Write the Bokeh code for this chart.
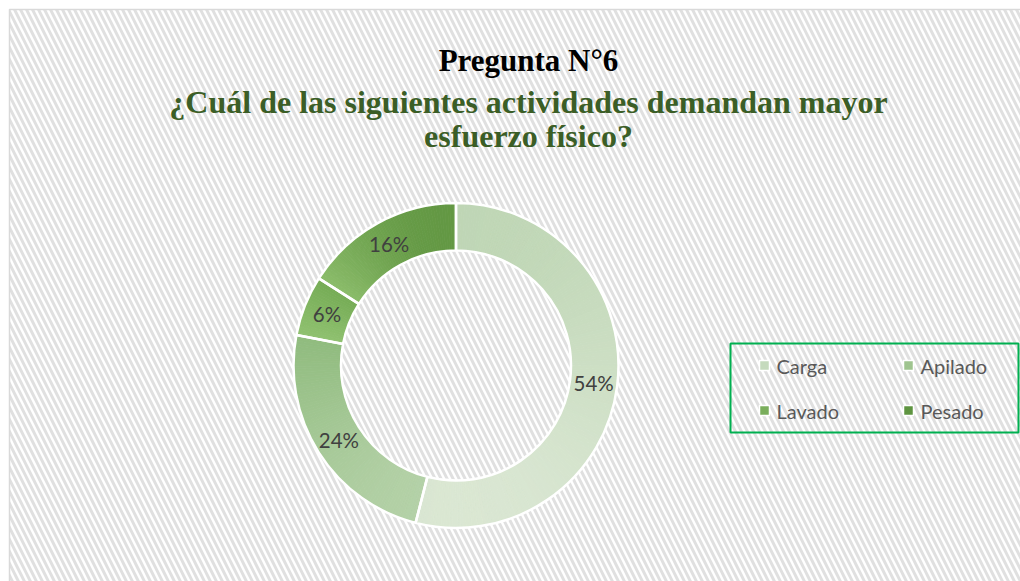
import numpy as np
from bokeh.plotting import figure
from bokeh.models import Label, BoxAnnotation, Range1d
from bokeh.embed import file_html
from bokeh.resources import INLINE
from bokeh.core.properties import value

# ---------------- data ----------------
categories = ["Carga", "Apilado", "Lavado", "Pesado"]
percentages = [54, 24, 6, 16]
pct_labels = ["54%", "24%", "6%", "16%"]

# ---------------- style ----------------
top_colors = ["#bdd5b3", "#8fbb7d", "#6ea64e", "#548a35"]
bottom_colors = ["#dce8d5", "#b9d4ad", "#93c473", "#93c472"]
legend_colors = ["#c5dabd", "#9fc48f", "#7aae5c", "#5e9440"]

W, H = 1020, 581
p = figure(width=W, height=H, x_range=Range1d(0, W), y_range=Range1d(0, H),
           output_backend="svg", toolbar_location=None,
           x_axis_type=None, y_axis_type=None, min_border=0)
p.grid.visible = False
p.outline_line_color = None
p.background_fill_color = "white"
p.border_fill_color = "white"

# chart area: hatched background with light grey border
p.add_layout(BoxAnnotation(left=9, right=W + 5, bottom=-5, top=H - 9, fill_alpha=0,
                           hatch_pattern="left_diagonal_line", hatch_color="#e0e0e0",
                           hatch_alpha=1.0, hatch_scale=12, hatch_weight=3,
                           line_color="#d9d9d9", line_alpha=1.0,
                           line_width=1.5, level="underlay"))

# ---------------- donut ----------------
cx, cy = 455.5, 216.0
r_out, r_in = 162.5, 115.0
r_mid = (r_out + r_in) / 2

def hex2rgb(h):
    h = h.lstrip("#")
    return np.array([int(h[i:i + 2], 16) for i in (0, 2, 4)], dtype=float)

def rgb2hex(c):
    return "#%02x%02x%02x" % tuple(int(round(v)) for v in c)

vals = np.array(percentages, dtype=float)
fr = vals / vals.sum()
cum = np.concatenate([[0], np.cumsum(fr)])
starts_main, ends_main, mids = [], [], []
for i in range(len(categories)):
    a0 = np.pi / 2 - 2 * np.pi * cum[i]
    a1 = np.pi / 2 - 2 * np.pi * cum[i + 1]
    starts_main.append(a1)
    ends_main.append(a0)
    mids.append((a0 + a1) / 2)
    # vertical gradient approximated by thin sub-wedges
    n = max(6, int(np.degrees(a0 - a1)))
    angs = np.linspace(a0, a1, n + 1)
    samp = np.linspace(a0, a1, 200)
    ys = np.concatenate([cy + r_out * np.sin(samp), cy + r_in * np.sin(samp)])
    ymin, ymax = ys.min(), ys.max()
    ct, cb = hex2rgb(top_colors[i]), hex2rgb(bottom_colors[i])
    ss, ee, cols = [], [], []
    for j in range(n):
        m = (angs[j] + angs[j + 1]) / 2
        ym = cy + r_mid * np.sin(m)
        t = (ymax - ym) / (ymax - ymin) if ymax > ymin else 0.5
        t = min(max(t, 0), 1)
        cols.append(rgb2hex(ct + (cb - ct) * t))
        ss.append(angs[j + 1])
        ee.append(angs[j])
    p.annular_wedge(x=cx, y=cy, inner_radius=r_in, outer_radius=r_out,
                    start_angle=ss, end_angle=ee, fill_color=cols,
                    line_color=cols, line_width=0.8)

p.annular_wedge(x=cx, y=cy, inner_radius=r_in, outer_radius=r_out,
                start_angle=starts_main, end_angle=ends_main,
                fill_alpha=0, line_color="white", line_width=2.5)

lx = [cx + r_mid * np.cos(m) for m in mids]
ly = [cy + r_mid * np.sin(m) for m in mids]
p.text(x=lx, y=ly, text=pct_labels, text_align="center", text_baseline="middle",
       text_font=value("Lato"), text_font_size="20.5px", text_color="#404040")

# ---------------- titles ----------------
title_x = 528
p.add_layout(Label(x=title_x, y=H - 60, text="Pregunta N°6", text_align="center",
                   text_baseline="middle", text_font="Liberation Serif",
                   text_font_style="bold", text_font_size="31px", text_color="black"))
p.add_layout(Label(x=title_x, y=H - 101, text="¿Cuál de las siguientes actividades demandan mayor",
                   text_align="center", text_baseline="middle", text_font="Liberation Serif",
                   text_font_style="bold", text_font_size="32px", text_color="#3b5e26"))
p.add_layout(Label(x=title_x, y=H - 135, text="esfuerzo físico?",
                   text_align="center", text_baseline="middle", text_font="Liberation Serif",
                   text_font_style="bold", text_font_size="32px", text_color="#3b5e26"))

# ---------------- legend ----------------
leg_left, leg_right, leg_bottom, leg_top = 730, 1018, H - 432, H - 343
p.add_layout(BoxAnnotation(left=leg_left, right=leg_right, bottom=leg_bottom, top=leg_top,
                           fill_alpha=0, line_color="#00b050", line_alpha=1.0, line_width=2))
col_x = [leg_left + 34, leg_left + 178]
row_y = [H - 365, H - 410]
mx = [col_x[k % 2] for k in range(len(categories))]
my = [row_y[k // 2] for k in range(len(categories))]
p.scatter(x=mx, y=my, marker="square", size=10, fill_color=legend_colors,
          line_color="white", line_width=1.5)
p.text(x=[v + 12 for v in mx], y=my, text=categories, text_align="left",
       text_baseline="middle", text_font=value("Lato"), text_font_size="20px",
       text_color="#595959")

open("out.html", "w").write(file_html(p, INLINE))
